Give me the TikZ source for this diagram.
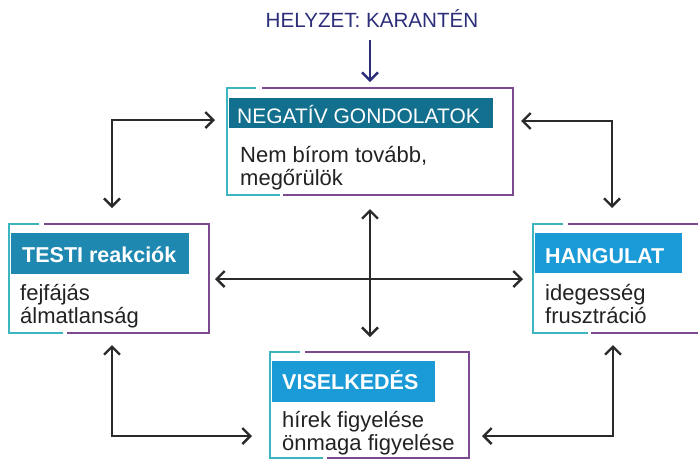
\documentclass[tikz,border=0pt]{standalone}
\usepackage{fontspec}
\setmainfont{Liberation Sans}
\usetikzlibrary{arrows.meta}
\definecolor{frcyan}{HTML}{3DB5BE}
\definecolor{frpurple}{HTML}{7B4A8F}
\definecolor{bardark}{HTML}{136F8E}
\definecolor{barmid}{HTML}{1F88B0}
\definecolor{barbright}{HTML}{1A9AD6}
\definecolor{navyc}{HTML}{2C2E7A}
\definecolor{txtc}{HTML}{222222}
\definecolor{arrc}{HTML}{2A2A2A}
\begin{document}
\begin{tikzpicture}[x=1pt,y=-1pt,
 cy/.style={frcyan,line width=2pt},
 pu/.style={frpurple,line width=2pt},
 ttl/.style={anchor=base west,inner sep=0pt,text=white,font=\fontsize{21.5}{25}\selectfont},
 body/.style={anchor=base west,inner sep=0pt,text=txtc,font=\fontsize{22}{26}\selectfont},
 conn/.style={arrc,line width=2.4pt,{Straight Barb[length=8pt,width=16pt]}-{Straight Barb[length=8pt,width=16pt]}},
]
\useasboundingbox (0,0) rectangle (698,459);

% heading
\node[anchor=base,inner sep=0pt,text=navyc,font=\fontsize{20.6}{24}\selectfont] (helyzet) at (372,27) {HELYZET: KARANTÉN};
\coordinate (hA) at (370,40);
\coordinate (hB) at (370,82);
\draw[navyc,line width=2.4pt,-{Straight Barb[length=8pt,width=16pt]}] (hA) -- (hB);

% NEGATIV
\draw[cy] (256,88) -- (227,88) -- (227,195) -- (280,195);
\draw[pu] (262,88) -- (513,88) -- (513,195) -- (283,195);
\fill[bardark] (229,98) rectangle (493,128);
\node[ttl,font=\fontsize{21}{25}\selectfont] (negt) at (237,123) {NEGATÍV GONDOLATOK};
\node[body] (negb1) at (240,162) {Nem bírom tovább,};
\node[body] (negb2) at (240,185) {megőrülök};

% TESTI
\draw[cy] (39,224) -- (9,224) -- (9,333) -- (63,333);
\draw[pu] (44,224) -- (209,224) -- (209,333) -- (67,333);
\fill[barmid] (11,233) rectangle (189,274);
\node[ttl,font=\fontsize{21.5}{25}\selectfont\bfseries] (testit) at (22,262) {TESTI reakciók};
\node[body] (testib1) at (20,300) {fejfájás};
\node[body] (testib2) at (20,323) {álmatlanság};

% HANGULAT
\draw[cy] (563,224) -- (533,224) -- (533,333) -- (588,333);
\draw[pu] (568,224) -- (698,224);
\draw[pu] (591,333) -- (698,333);
\fill[barbright] (535,233) rectangle (682,273);
\node[ttl,font=\fontsize{21.5}{25}\selectfont\bfseries] (hangt) at (545,263) {HANGULAT};
\node[body] (hangb1) at (545,300) {idegesség};
\node[body] (hangb2) at (545,323) {frusztráció};

% VISELKEDES
\draw[cy] (300,352) -- (270,352) -- (270,458) -- (323,458);
\draw[pu] (305,352) -- (469,352) -- (469,458) -- (327,458);
\fill[barbright] (272,361) rectangle (435,402);
\node[ttl,font=\fontsize{21.5}{25}\selectfont\bfseries] (viselt) at (282,389) {VISELKEDÉS};
\node[body] (viselb1) at (282,427) {hírek figyelése};
\node[body] (viselb2) at (282,450) {önmaga figyelése};

% connectors
\coordinate (tlA) at (215,120); \coordinate (tlC) at (112,120); \coordinate (tlB) at (112,208);
\draw[conn] (tlA) -- (tlC) -- (tlB);
\coordinate (trA) at (521,121); \coordinate (trC) at (612,121); \coordinate (trB) at (612,208);
\draw[conn] (trA) -- (trC) -- (trB);
\coordinate (mL) at (215,279); \coordinate (mR) at (523,279);
\draw[conn] (mL) -- (mR);
\coordinate (mT) at (370,209); \coordinate (mB) at (370,337);
\draw[conn] (mT) -- (mB);
\coordinate (blA) at (112,345); \coordinate (blC) at (112,436); \coordinate (blB) at (252,436);
\draw[conn] (blA) -- (blC) -- (blB);
\coordinate (brA) at (613,345); \coordinate (brC) at (613,436); \coordinate (brB) at (482,436);
\draw[conn] (brA) -- (brC) -- (brB);
\end{tikzpicture}
\end{document}
